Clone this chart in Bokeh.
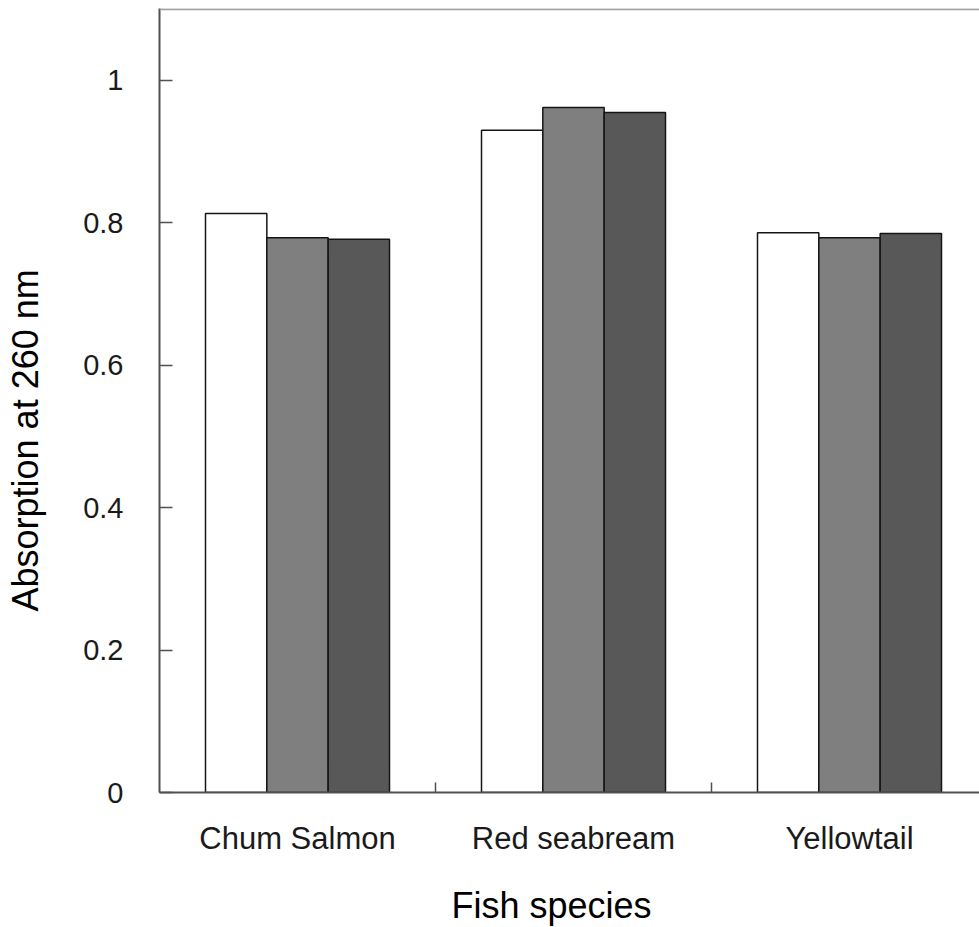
from bokeh.plotting import figure
from bokeh.models import FixedTicker, Span, Range1d, Title
from bokeh.embed import file_html
from bokeh.resources import INLINE

# ---- data ----
species = ["Chum Salmon", "Red seabream", "Yellowtail"]
series_white = [0.813, 0.930, 0.786]
series_grey = [0.779, 0.962, 0.779]
series_dark = [0.777, 0.955, 0.785]
y_ticks = [0, 0.2, 0.4, 0.6, 0.8, 1.0]
y_tick_labels = ["0", "0.2", "0.4", "0.6", "0.8", "1"]
x_title = "Fish species"
y_title = "Absorption at 260 nm"

FONT = "Liberation Sans"
TXT = "#1a1a1a"
AX = "#505050"

p = figure(width=979, height=927, output_backend="svg", toolbar_location=None,
           x_range=Range1d(0, 2.971), y_range=Range1d(0, 1.101),
           min_border_left=159, min_border_right=0, min_border_top=8,
           min_border_bottom=135)
p.outline_line_color = None
p.xgrid.visible = False
p.ygrid.visible = False
p.background_fill_color = "white"
p.border_fill_color = "white"

centers = [i + 0.5 for i in range(len(species))]
bw = 2.0 / 9.0
for k, (vals, color) in enumerate([(series_white, "white"),
                                   (series_grey, "#7f7f7f"),
                                   (series_dark, "#585858")]):
    xs = [c + (k - 1) * bw for c in centers]
    p.vbar(x=xs, top=vals, bottom=0, width=bw, fill_color=color,
           line_color="#151515", line_width=1.5)

# top border line
p.add_layout(Span(location=1.1, dimension="width", line_color="#a0a0a0", line_width=2))

# x axis
xa = p.xaxis[0]
xa.ticker = FixedTicker(ticks=centers, minor_ticks=[1, 2])
xa.major_label_overrides = {c: s for c, s in zip(centers, species)}
xa.major_tick_in = 0
xa.major_tick_out = 0
xa.minor_tick_in = 10
xa.minor_tick_out = 0
xa.minor_tick_line_color = AX
xa.minor_tick_line_width = 1.5
xa.axis_line_color = AX
xa.axis_line_width = 2
xa.major_label_text_font = FONT
xa.major_label_text_font_size = "31px"
xa.major_label_text_color = TXT
xa.major_label_standoff = 28
xa.axis_label = " "
xa.axis_label_text_font_size = "8px"
xa.axis_label_standoff = 14

# y axis
ya = p.yaxis[0]
ya.ticker = FixedTicker(ticks=y_ticks)
ya.major_label_overrides = {t: s for t, s in zip(y_ticks, y_tick_labels)}
ya.major_tick_in = 13
ya.major_tick_out = 0
ya.major_tick_line_color = AX
ya.major_tick_line_width = 1.5
ya.minor_tick_line_color = None
ya.axis_line_color = AX
ya.axis_line_width = 2
ya.major_label_text_font = FONT
ya.major_label_text_font_size = "29px"
ya.major_label_text_color = TXT
ya.major_label_standoff = 36
ya.axis_label = " "
ya.axis_label_text_font_size = "8px"
ya.axis_label_standoff = 23

# axis titles
p.add_layout(Title(text=y_title, align="left", offset=181, standoff=0,
                   vertical_align="bottom", text_font=FONT,
                   text_font_size="36px", text_font_style="normal",
                   text_color="black"), "left")
p.add_layout(Title(text=x_title, align="left", offset=292, standoff=0,
                   vertical_align="top", text_font=FONT,
                   text_font_size="36px", text_font_style="normal",
                   text_color="black"), "below")

open("out.html", "w").write(file_html(p, INLINE))
